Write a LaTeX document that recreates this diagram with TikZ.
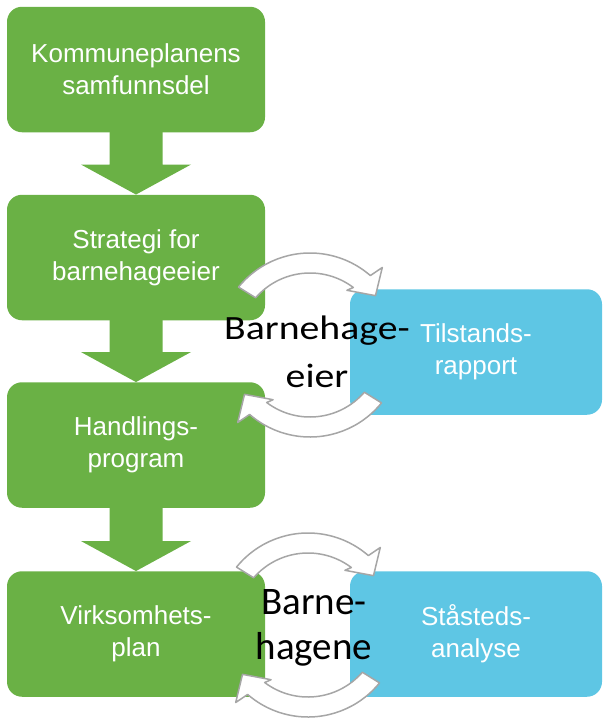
\documentclass[tikz,border=0pt]{standalone}
\usepackage{fontspec}
\setmainfont{Liberation Sans}
\newfontfamily\ringfont{Carlito}
\newfontfamily\ringfontwide{Carlito}[FakeStretch=1.17]
\usetikzlibrary{calc}
\definecolor{boxgreen}{RGB}{106,177,69}
\definecolor{boxblue}{RGB}{94,198,228}
\definecolor{ringgray}{RGB}{166,166,166}
\begin{document}
\begin{tikzpicture}[x=1pt,y=1pt,line join=round,
	greenbox/.style={fill=boxgreen,rounded corners=15pt,minimum width=258pt,minimum height=125.5pt,inner sep=0pt,align=center,text=white,font=\fontsize{26}{32}\selectfont},
	bluebox/.style={greenbox,fill=boxblue,minimum width=252pt},
	ringarrow/.style={fill=white,draw=ringgray,line width=1.5pt}]
		\useasboundingbox (0,0) rectangle (603,-718);
		%\draw[gray!30] (0,0) grid[step=50] (603,-718);
		\node[greenbox] (samfunnsdel) at (136,-69.5) {Kommuneplanens\\samfunnsdel};
		\node[greenbox] (strategi) at (136,-257.5) {Strategi for\\barnehageeier};
		\node[greenbox] (handling) at (136,-445) {Handlings-\\program};
		\node[greenbox] (virksomhet) at (136,-634) {Virksomhets-\\plan};
		\node[bluebox] (tilstand) at (476,-352) {Tilstands-\\rapport};
		\node[bluebox] (staasted) at (476,-634) {Ståsteds-\\analyse};
		\foreach \a/\b in {samfunnsdel/strategi,strategi/handling,handling/virksomhet}
		\fill[boxgreen] let \p1=(\a.south), \p2=(\b.north) in (\x1-26.5pt,\y1+1pt)--(\x1+26.5pt,\y1+1pt)--(\x1+26.5pt,\y2+30pt)--(\x1+55pt,\y2+30pt)--(\x2,\y2)--(\x1-55pt,\y2+30pt)--(\x1-26.5pt,\y2+30pt)--cycle;
		\coordinate (eierring) at (310,-345);
		\coordinate (hagering) at (308,-625);
		\foreach \c in {eierring,hagering}
		\foreach \r in {0,180}
		{\filldraw[ringarrow] ($(\c)+(\r+141:92)$) arc[start angle=\r+141,end angle=\r+49,radius=92]--($(\c)+(\r+47:106)$)--($(\c)+(\r+37:82)$)--($(\c)+(\r+56:66)$)--($(\c)+(\r+53:72)$) arc[start angle=\r+53,end angle=\r+139,radius=72]--cycle;}
		\node[font=\ringfontwide\fontsize{34}{48}\selectfont,align=center,inner sep=0pt] (eier) at (317,-352) {Barnehage-\\eier};
		\node[font=\ringfont\fontsize{39}{45}\selectfont,align=center,inner sep=0pt] (hagene) at (314,-628) {Barne-\\hagene};
	\end{tikzpicture}
\end{document}
